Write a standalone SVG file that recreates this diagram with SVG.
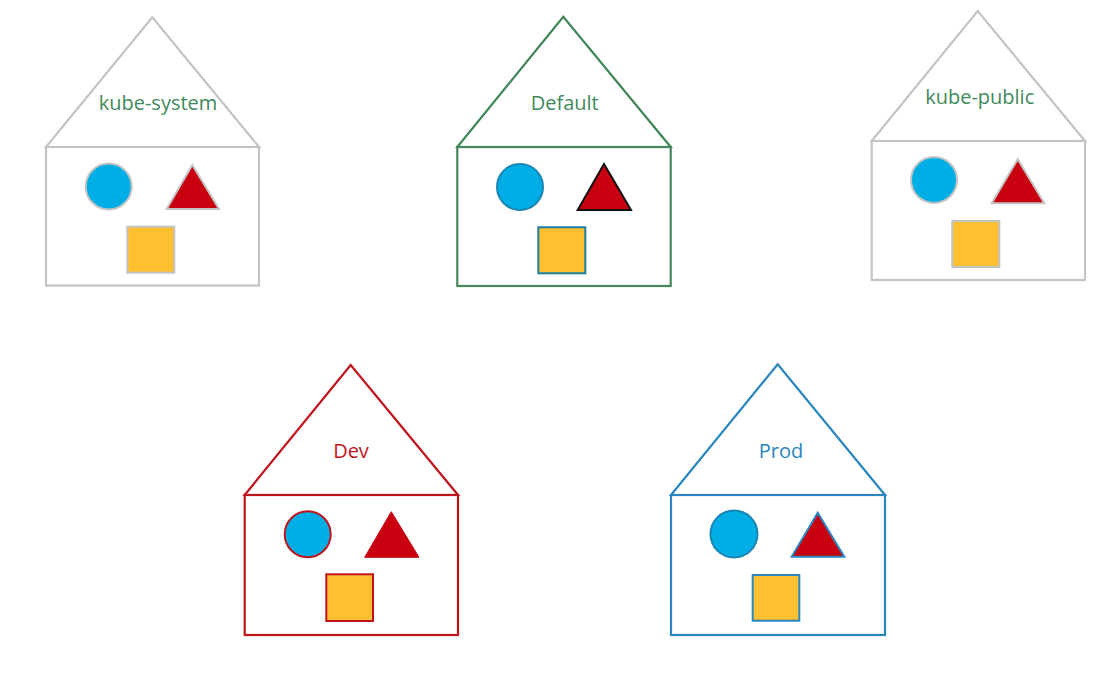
<svg xmlns="http://www.w3.org/2000/svg" width="1110" height="681" viewBox="0 0 1110 681">
<style>
.h{fill:#fff;stroke-width:2.2;stroke-linejoin:miter}
.lbl{font-family:"Open Sans","Liberation Sans",sans-serif;font-size:20px;text-anchor:middle}
.c{fill:#00aee6}
.t{fill:#c8000f}
.s{fill:#ffc030}
.gray{stroke:#c4c4c4}
.green{stroke:#41875a}
.red{stroke:#c0141c}
.blue{stroke:#2a86bf}
</style>
<rect width="1110" height="681" fill="#fff"/>
<g id="kube-system">
<polygon class="h gray" points="46,147 152.3,17.3 259,147"/>
<rect class="h gray" x="46" y="147" width="213" height="138.5"/>
<text class="lbl" x="158" y="110" fill="#3f8a5c">kube-system</text>
<circle class="c" cx="108.7" cy="186.5" r="23" stroke="#c4c4c4" stroke-width="2"/>
<polygon class="t" points="192.3,165 166.7,209 219,209" stroke="#c4c4c4" stroke-width="2"/>
<rect class="s" x="127.3" y="226.7" width="47" height="46" stroke="#c4c4c4" stroke-width="2"/>
</g>
<g id="default">
<polygon class="h green" points="457.3,147 563.3,16.7 670.7,147"/>
<rect class="h green" x="457.3" y="147" width="213.4" height="139"/>
<text class="lbl" x="564.7" y="110" fill="#3f8a5c">Default</text>
<circle class="c" cx="520" cy="187" r="23" stroke="#1b86b5" stroke-width="2"/>
<polygon class="t" points="604,164 577.7,210 631,210" stroke="#111" stroke-width="2"/>
<rect class="s" x="538.3" y="227.3" width="47" height="46" stroke="#1b7fa3" stroke-width="2"/>
</g>
<g id="kube-public">
<polygon class="h gray" points="871.7,141 977.7,11 1085,141"/>
<rect class="h gray" x="871.7" y="141" width="213.3" height="139"/>
<text class="lbl" x="979.7" y="104.3" fill="#3f8a5c">kube-public</text>
<circle class="c" cx="934" cy="180" r="23" stroke="#c4c4c4" stroke-width="2"/>
<polygon class="t" points="1017.7,159.3 991.7,203.3 1044.3,203.3" stroke="#c4c4c4" stroke-width="2"/>
<rect class="s" x="952.3" y="221" width="47" height="46" stroke="#c4c4c4" stroke-width="2"/>
</g>
<g id="dev">
<polygon class="h red" points="244.7,495 350.7,365 458,495"/>
<rect class="h red" x="244.7" y="495" width="213.3" height="140"/>
<text class="lbl" x="351" y="457.7" fill="#c0141c">Dev</text>
<circle class="c" cx="307.7" cy="534.2" r="23" stroke="#c0141c" stroke-width="2"/>
<polygon class="t" points="391.3,511.7 364.7,557.3 419,557.3" stroke="#c8000f" stroke-width="1"/>
<rect class="s" x="326.3" y="574.3" width="46.7" height="46.7" stroke="#c0141c" stroke-width="2"/>
</g>
<g id="prod">
<polygon class="h blue" points="671,495 777.7,364.3 885,495"/>
<rect class="h blue" x="671" y="495" width="214" height="140"/>
<text class="lbl" x="781" y="457.7" fill="#2a86bf">Prod</text>
<circle class="c" cx="734" cy="534" r="23.5" stroke="#1b86b5" stroke-width="2"/>
<polygon class="t" points="817.7,512.7 791.7,556.7 844.3,556.7" stroke="#2a86bf" stroke-width="2"/>
<rect class="s" x="752.7" y="575" width="46.6" height="45.7" stroke="#2a86bf" stroke-width="2"/>
</g>
<g id="connectors"></g>
</svg>
